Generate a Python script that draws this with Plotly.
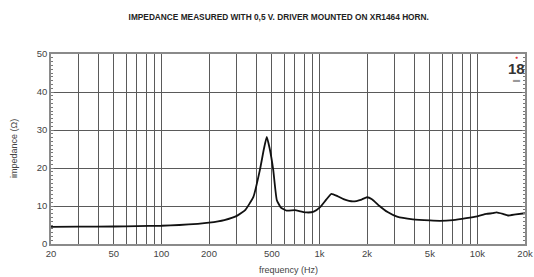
import plotly.graph_objects as go

# Measured impedance curve
freq_hz = [20, 30, 50, 70, 100, 130, 170, 200, 250, 300, 340, 382, 420, 445, 464,
           485, 510, 537, 570, 620, 700, 760, 830, 920, 1010, 1100, 1190, 1300,
           1420, 1630, 1850, 2000, 2150, 2400, 2700, 3100, 3900, 5000, 5800, 7000,
           8500, 10000, 11400, 12500, 13200, 14500, 15600, 17500, 20000]
impedance_ohm = [4.5, 4.55, 4.6, 4.7, 4.8, 5.0, 5.3, 5.6, 6.3, 7.4, 9.0, 12.4, 19.5, 25.0, 28.2,
                 25.0, 19.5, 11.6, 9.6, 8.8, 8.9, 8.6, 8.3, 8.5, 9.7, 11.6, 13.2, 12.6,
                 11.8, 11.2, 11.7, 12.3, 11.8, 10.0, 8.4, 7.2, 6.5, 6.2, 6.1, 6.3,
                 6.8, 7.3, 7.9, 8.1, 8.3, 7.9, 7.5, 7.8, 8.1]

# Axis ticks / grid
x_grid_vals = [20, 30, 40, 50, 60, 70, 80, 90, 100, 200, 300, 400, 500, 600, 700, 800, 900,
               1000, 2000, 3000, 4000, 5000, 6000, 7000, 8000, 9000, 10000, 20000]
x_label_map = {20: "20", 50: "50", 100: "100", 200: "200", 500: "500", 1000: "1k",
               2000: "2k", 5000: "5k", 10000: "10k", 20000: "20k"}
x_tick_text = [x_label_map.get(v, "") for v in x_grid_vals]
y_tick_vals = [0, 10, 20, 30, 40, 50]

title_text = "IMPEDANCE MEASURED WITH 0,5 V. DRIVER MOUNTED ON XR1464 HORN."

fig = go.Figure()
fig.add_trace(go.Scatter(
    x=freq_hz, y=impedance_ohm, mode="lines",
    line=dict(color="#111111", width=1.8, shape="spline", smoothing=0.4),
    showlegend=False, hoverinfo="skip"))

font_family = "Liberation Sans, Arial, sans-serif"

fig.update_layout(
    width=534, height=277,
    margin=dict(l=51, r=9, t=54, b=33),
    paper_bgcolor="white", plot_bgcolor="white",
    font=dict(family=font_family, color="#444444", size=9),
    title=dict(text="<b>" + title_text + "</b>", x=0.522, xanchor="center",
               y=0.94, yanchor="middle",
               font=dict(size=8.3, color="#222222", family=font_family)),
)

fig.update_xaxes(
    type="log", range=[1.30103, 4.30103], automargin=False,
    tickmode="array", tickvals=x_grid_vals, ticktext=x_tick_text,
    ticklabeloverflow="allow",
    showgrid=True, gridcolor="#5a5a5a", gridwidth=1,
    showline=True, linecolor="#8a8a8a", linewidth=1.5, mirror=True,
    ticks="", tickfont=dict(size=9.5, color="#444444"),
    zeroline=False,
)
fig.update_yaxes(
    range=[0, 50], tickmode="array", tickvals=y_tick_vals, automargin=False,
    showgrid=True, gridcolor="#5a5a5a", gridwidth=1,
    showline=True, linecolor="#8a8a8a", linewidth=1.5, mirror="allticks",
    ticks="inside", ticklen=3, tickcolor="#777777",
    minor=dict(dtick=1, ticks="inside", ticklen=2, tickcolor="#777777", showgrid=False),
    tickfont=dict(size=9.5, color="#444444"),
    zeroline=False,
)

# Axis titles
fig.add_annotation(text="frequency (Hz)", xref="paper", yref="paper", x=0.5, y=-0.137,
                   showarrow=False, xanchor="center", yanchor="middle",
                   font=dict(size=9, color="#444444", family=font_family))
fig.add_annotation(text="impedance (Ω)", xref="paper", yref="paper", x=-0.078, y=0.5,
                   showarrow=False, xanchor="center", yanchor="middle", textangle=-90,
                   font=dict(size=9, color="#444444", family=font_family))

# Brand logo in top-right corner
fig.add_annotation(text="<b>18</b>", xref="paper", yref="paper", x=0.982, y=0.926,
                   showarrow=False, xanchor="center", yanchor="middle",
                   font=dict(size=15, color="#333333",
                             family="Liberation Sans Narrow, Liberation Sans, sans-serif"))
fig.add_annotation(text="●", xref="paper", yref="paper", x=0.982, y=0.984,
                   showarrow=False, font=dict(size=5, color="#e03030"),
                   xanchor="center", yanchor="middle")
fig.add_annotation(text="▬", xref="paper", yref="paper", x=0.982, y=0.866,
                   showarrow=False, font=dict(size=7, color="#999999"),
                   xanchor="center", yanchor="middle")

fig.write_html("out.html", config={"displayModeBar": False},
               post_script="document.body.style.margin='0';document.body.style.overflow='hidden';")
